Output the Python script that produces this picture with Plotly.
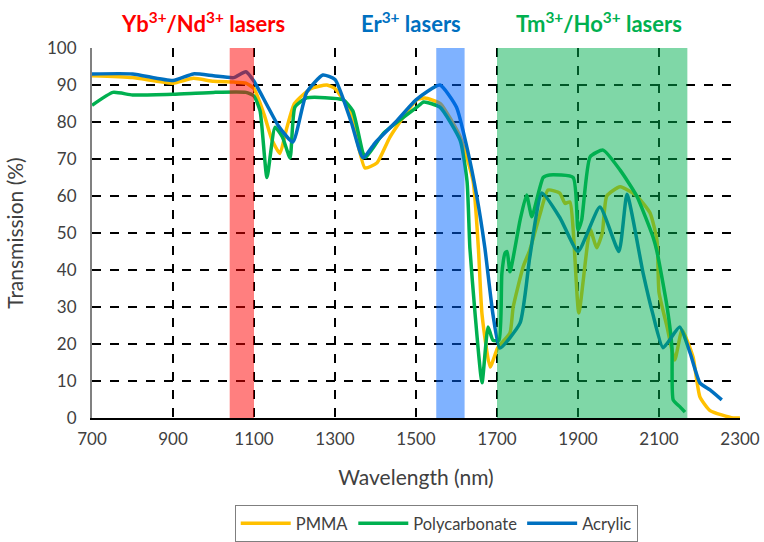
import plotly.graph_objects as go

# ---- data ----
pmma_wl = [700, 800, 900, 950, 1000, 1050, 1080, 1100, 1125, 1145, 1164, 1180, 1200, 1240, 1280, 1300,
           1337, 1374, 1404, 1436, 1502, 1522, 1560, 1609, 1641, 1654, 1663, 1683, 1702, 1732, 1740,
           1765, 1781, 1806, 1826, 1855, 1868, 1880, 1902, 1930, 1946, 1960, 1971, 2004, 2045, 2078,
           2095, 2100, 2120, 2139, 2157, 2184, 2201, 2226, 2283, 2300]
pmma_t = [92.5, 92, 90.5, 91.8, 91, 90.8, 90.5, 89, 82, 75, 71.5, 78, 85, 89, 90, 89,
          83, 67.6, 69, 76, 86, 86.5, 85, 76, 64, 46, 28, 13.8, 19, 23, 30,
          41, 45.4, 55, 61.6, 60.8, 58, 58.4, 28.4, 51, 46, 50, 60, 62.5, 60, 55.4,
          48, 34, 24.6, 15.7, 23.8, 16.5, 5.7, 2, 0, 0]

pc_wl = [700, 752, 800, 900, 1000, 1080, 1100, 1115, 1132, 1152, 1170, 1189, 1201, 1230, 1320, 1344,
         1369, 1376, 1420, 1502, 1519, 1559, 1609, 1626, 1633, 1646, 1663, 1678, 1690, 1705, 1712,
         1720, 1725, 1732, 1757, 1773, 1786, 1814, 1830, 1888, 1900, 1909, 1930, 1962, 2004, 2045,
         2085, 2095, 2120, 2132, 2135, 2152, 2164]
pc_t = [84.5, 88, 87.3, 87.5, 88, 88, 87, 83, 65, 78.6, 76, 70.3, 84, 86.5, 86, 83,
        71.6, 70.5, 77, 84, 85.4, 84, 75, 64, 46, 28, 9.5, 24.6, 21, 21, 39,
        44.6, 45, 39.5, 53.5, 60.3, 54.4, 65, 65.7, 65, 50.8, 53.5, 70.6, 72.4, 67, 60,
        49, 45, 30, 19, 4.9, 3, 1.6]

acr_wl = [700, 800, 900, 950, 1000, 1050, 1080, 1100, 1130, 1160, 1196, 1230, 1270, 1300, 1340, 1369,
          1400, 1450, 1500, 1559, 1600, 1626, 1650, 1670, 1690, 1707, 1757, 1781, 1811, 1856, 1900,
          1954, 2001, 2021, 2061, 2085, 2110, 2151, 2177, 2201, 2226, 2255]
acr_t = [93, 93, 91.2, 93, 92.5, 92, 93.6, 91, 85, 79, 74.6, 88, 92.7, 91.5, 80, 70.3,
         74.5, 80, 86, 90, 84, 73, 60, 46, 28, 18.9, 25.7, 43.5, 60.8, 54, 45,
         57, 45, 60.5, 39, 28, 19, 24.6, 17.5, 9.5, 7.6, 4.9]

x_ticks = [700, 900, 1100, 1300, 1500, 1700, 1900, 2100, 2300]
y_ticks = [0, 10, 20, 30, 40, 50, 60, 70, 80, 90, 100]

bands = [(1040, 1100, "rgba(255,0,0,0.5)"),
         (1550, 1620, "rgba(0,102,255,0.5)"),
         (1700, 2170, "rgba(0,176,80,0.5)")]

FONT = "Lato"

fig = go.Figure()
fig.add_trace(go.Scatter(x=pmma_wl, y=pmma_t, name="PMMA", mode="lines",
                         line=dict(color="#FFC000", width=3.5, shape="spline", smoothing=0.5)))
fig.add_trace(go.Scatter(x=pc_wl, y=pc_t, name="Polycarbonate", mode="lines",
                         line=dict(color="#00B050", width=3.5, shape="spline", smoothing=0.5)))
fig.add_trace(go.Scatter(x=acr_wl, y=acr_t, name="Acrylic", mode="lines",
                         line=dict(color="#0070C0", width=3.5, shape="spline", smoothing=0.5)))

for x0, x1, c in bands:
    fig.add_shape(type="rect", xref="x", yref="paper", x0=x0, x1=x1, y0=0, y1=1,
                  fillcolor=c, line=dict(width=0), layer="above")

ann = [("Yb<sup>3+</sup>/Nd<sup>3+</sup> lasers", 0.171, "#FF0000"),
       ("Er<sup>3+</sup> lasers", 0.492, "#0070C0"),
       ("Tm<sup>3+</sup>/Ho<sup>3+</sup> lasers", 0.782, "#00B050")]
for t, xp, c in ann:
    fig.add_annotation(text="<b>" + t + "</b>", x=xp, y=1.07, xref="paper", yref="paper",
                       showarrow=False, font=dict(family=FONT, size=22, color=c),
                       xanchor="center", yanchor="middle")

fig.update_layout(
    width=764, height=542,
    margin=dict(l=92, r=24, t=48, b=124),
    paper_bgcolor="white", plot_bgcolor="white",
    font=dict(family=FONT, size=17, color="#404040"),
    showlegend=True,
    legend=dict(orientation="h", xref="container", yref="container",
                x=0.571, xanchor="center", y=0.068, yanchor="top",
                bordercolor="#7f7f7f", borderwidth=1, font=dict(family=FONT, size=16.5, color="#404040"),
                itemwidth=50, tracegroupgap=0),
    xaxis=dict(range=[700, 2300], tickvals=x_ticks, showgrid=True, gridcolor="black",
               gridwidth=2, griddash="dash", showline=True, linecolor="black", linewidth=2,
               zeroline=False, ticks="", ticklabelstandoff=5, automargin=False,
               title=dict(text="Wavelength (nm)", font=dict(size=21, color="#404040"), standoff=22)),
    yaxis=dict(range=[0, 100], tickvals=y_ticks, showgrid=True, gridcolor="black",
               gridwidth=2, griddash="dash", showline=True, linecolor="#808080", linewidth=2,
               zeroline=False, ticks="", ticklabelstandoff=10, automargin=False,
               title=dict(text="Transmission (%)", font=dict(size=21, color="#404040"), standoff=18)),
)

fig.write_html("out.html")
